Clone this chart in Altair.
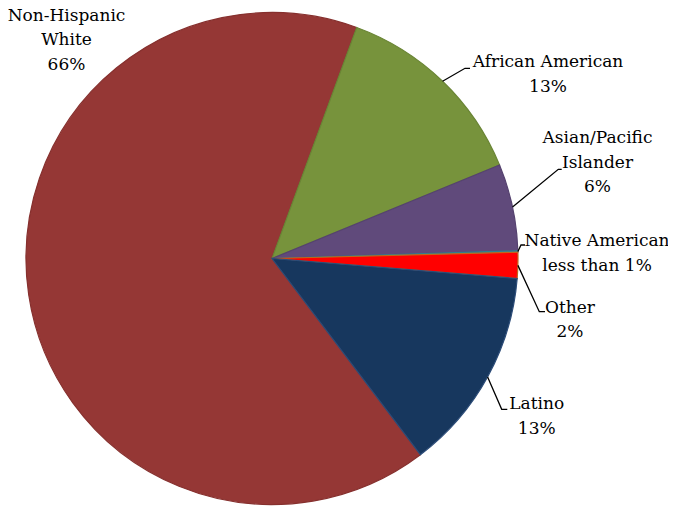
import math
import altair as alt
import pandas as pd

# ---- data ----
categories = ["Non-Hispanic White", "African American", "Asian/Pacific Islander",
              "Native American", "Other", "Latino"]
label_names = ["Non-Hispanic\nWhite", "African American", "Asian/Pacific\nIslander",
               "Native American", "Other", "Latino"]
shares = [65.9, 13.2, 5.7, 0.1, 1.7, 13.4]

# ---- styling / layout ----
fill_colors = ["#953735", "#77933C", "#604A7B", "#31859C", "#FF0000", "#17375E"]
edge_colors = ["#86302E", "#6A8535", "#55426F", "#2E7F8F", "#C0661C", "#2C4C78"]
FONT = "DejaVu Serif"
FIRST_SLICE_DEG = 142.9          # where the first slice starts, clockwise from 12 o'clock
R = 246                          # pie radius in px
W, H = 660, 500
CX, CY = 264, 250.5              # pie centre inside the plot area

# label anchors (centre x, first baseline y) relative to pie centre, px
label_anchor = {
    "Non-Hispanic White": (-205.5, -237.8),
    "African American": (276.0, -191.2),
    "Asian/Pacific Islander": (325.5, -115.2),
    "Native American": (325.0, -12.5),
    "Other": (298.0, 54.2),
    "Latino": (264.7, 150.8),
}
# leader line bend and end points relative to pie centre, px
leader_bend = {
    "African American": [(193.0, -190.2), (198.0, -190.2)],
    "Asian/Pacific Islander": [(286.3, -89.2), (289.7, -89.2)],
    "Native American": [(249.0, -13.5), (253.0, -13.5)],
    "Other": [(267.3, 53.2), (273.0, 53.2)],
    "Latino": [(229.7, 150.8), (235.3, 150.8)],
}

xs = alt.Scale(domain=[-CX, W - CX], nice=False, zero=False)
ys = alt.Scale(domain=[-CY, H - CY], nice=False, zero=False, reverse=True)

pie_df = pd.DataFrame({
    "category": categories,
    "share": shares,
    "order": list(range(len(categories))),
    "cx": [0.0] * len(categories),
    "cy": [0.0] * len(categories),
})

a0 = math.radians(FIRST_SLICE_DEG)
arc = alt.Chart(pie_df).mark_arc(outerRadius=R, strokeWidth=1.2).encode(
    x=alt.X("cx:Q", scale=xs, axis=None),
    y=alt.Y("cy:Q", scale=ys, axis=None),
    theta=alt.Theta("share:Q", stack=True, scale=alt.Scale(range=[a0, a0 + 2 * math.pi])),
    order=alt.Order("order:Q"),
    color=alt.Color("category:N", scale=alt.Scale(domain=categories, range=fill_colors), legend=None),
    stroke=alt.Stroke("category:N", scale=alt.Scale(domain=categories, range=edge_colors), legend=None),
)

# label text from the values
total = sum(shares)
texts = []
for name, v in zip(label_names, shares):
    pct = v / total * 100
    pct_txt = f"{round(pct)}%" if pct >= 1 else "less than 1%"
    texts.append(name + "\n" + pct_txt)

lab_df = pd.DataFrame({
    "category": categories,
    "text": texts,
    "x": [label_anchor[c][0] for c in categories],
    "y": [label_anchor[c][1] for c in categories],
})

# leader lines: start on the slice edge at its mid angle
rows = []
cum = 0.0
for c, v in zip(categories, shares):
    mid = a0 + 2 * math.pi * (cum + v / 2) / total
    cum += v
    if c in leader_bend:
        pts = [(R * math.sin(mid), -R * math.cos(mid))] + leader_bend[c]
        for i, (px, py) in enumerate(pts):
            rows.append({"category": c, "step": i, "x": px, "y": py})
lead_df = pd.DataFrame(rows)

leaders = alt.Chart(lead_df).mark_line(color="black", strokeWidth=1.3).encode(
    x=alt.X("x:Q", scale=xs, axis=None),
    y=alt.Y("y:Q", scale=ys, axis=None),
    detail="category:N",
    order="step:Q",
)

labels = alt.Chart(lab_df).mark_text(
    font=FONT, fontSize=17, lineHeight=24.5, lineBreak="\n",
    align="center", baseline="alphabetic", color="black",
).encode(
    x=alt.X("x:Q", scale=xs, axis=None),
    y=alt.Y("y:Q", scale=ys, axis=None),
    text="text:N",
)

chart = alt.layer(arc, leaders, labels).properties(
    width=W, height=H, padding=0,
    autosize=alt.AutoSizeParams(type="none"),
    background="white",
).configure_view(stroke=None)

chart.save("out.html", embed_options={"renderer": "svg", "actions": False})
